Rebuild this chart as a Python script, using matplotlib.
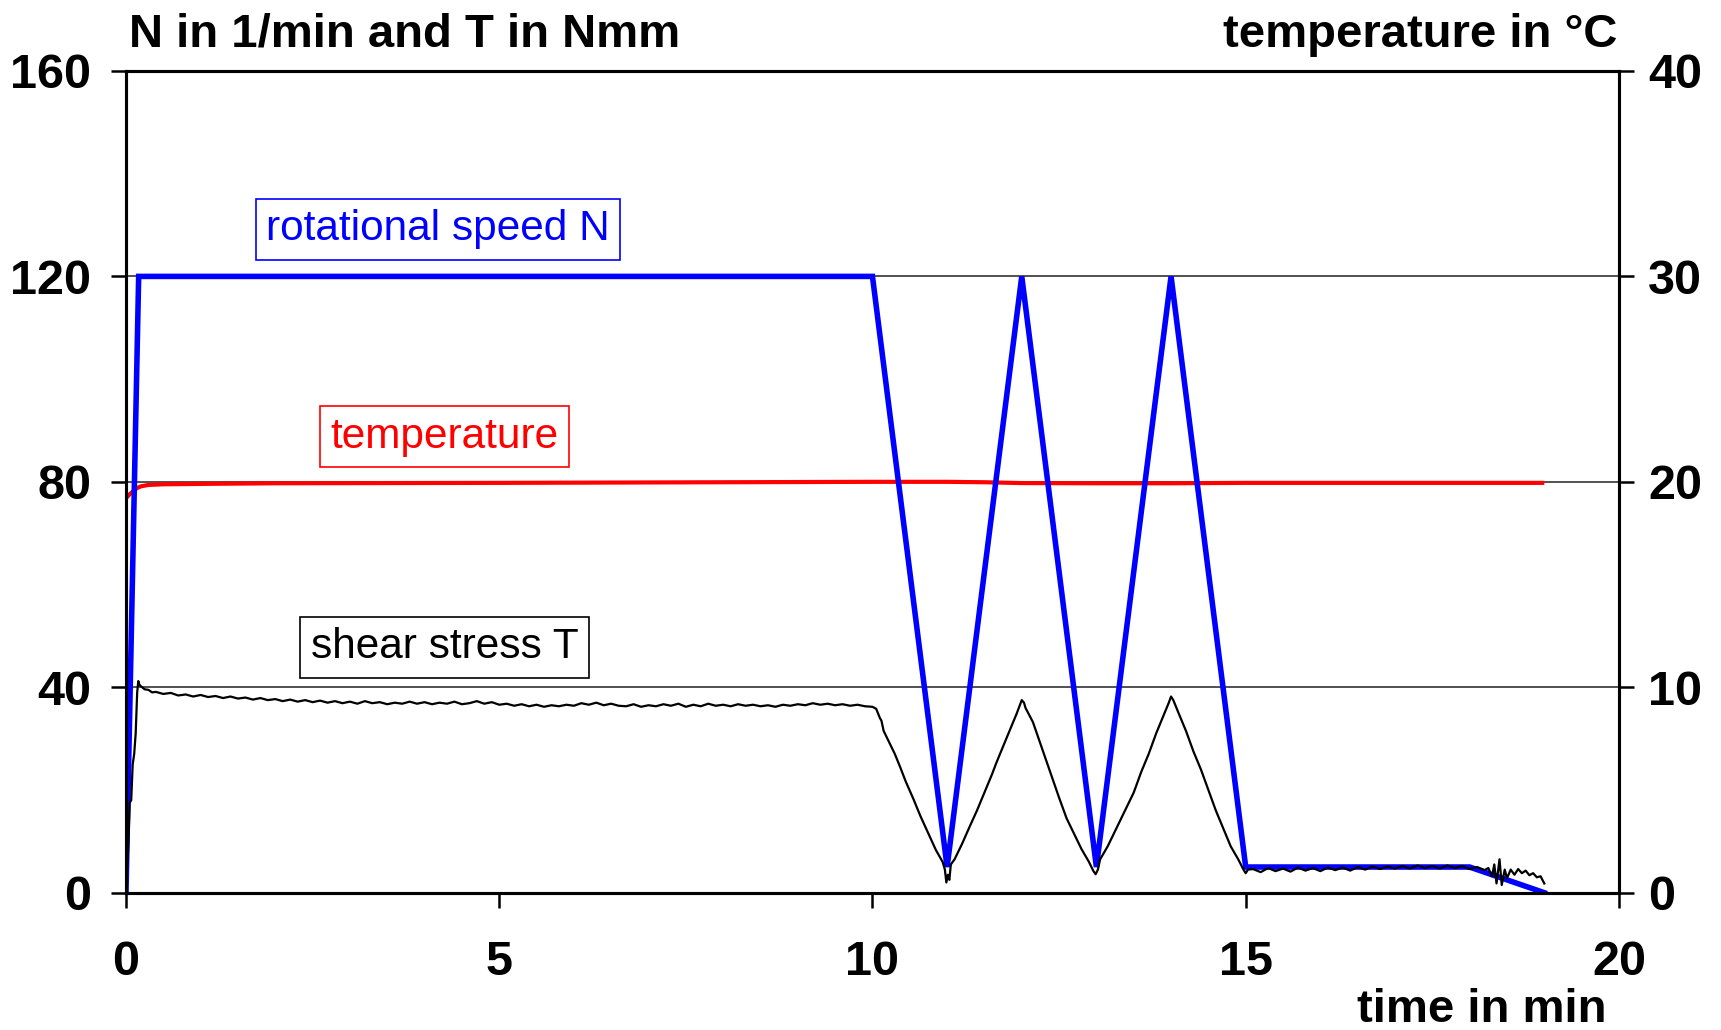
import matplotlib
matplotlib.use('Agg')
import matplotlib.pyplot as plt

plt.rcParams['font.family'] = ['Liberation Sans', 'DejaVu Sans']

# rotational speed N (1/min)
speed_t = [0, 0.17, 10, 11, 12, 13, 14, 15, 18.0, 19.0]
speed_n = [0, 120, 120, 5, 120, 5, 120, 5, 5, 0]

# temperature (degC, right axis)
temp_t = [0, 0.05, 0.1, 0.15, 0.2, 0.3, 0.5, 1, 2, 5, 10, 11, 11.5, 12, 13, 14, 15, 19]
temp_c = [19.2, 19.4, 19.55, 19.7, 19.78, 19.85, 19.88, 19.9, 19.93, 19.95, 20.0, 20.0,
          19.98, 19.94, 19.93, 19.93, 19.95, 19.95]

# shear stress T (Nmm)
shear_t = [0.00, 0.03, 0.05, 0.07, 0.09, 0.11, 0.13, 0.15, 0.165, 0.18, 0.20, 0.25, 0.30, 0.35, 0.40,
           0.5, 0.6, 0.7, 0.8, 0.9, 1.0, 1.1, 1.2, 1.3, 1.4,
           1.5, 1.6, 1.7, 1.8, 1.9, 2.0, 2.1, 2.2, 2.3, 2.4,
           2.5, 2.6, 2.7, 2.8, 2.9, 3.0, 3.1, 3.2, 3.3, 3.4,
           3.5, 3.6, 3.7, 3.8, 3.9, 4.0, 4.1, 4.2, 4.3, 4.4,
           4.5, 4.6, 4.7, 4.8, 4.9, 5.0, 5.1, 5.2, 5.3, 5.4,
           5.5, 5.6, 5.7, 5.8, 5.9, 6.0, 6.1, 6.2, 6.3, 6.4,
           6.5, 6.6, 6.7, 6.8, 6.9, 7.0, 7.1, 7.2, 7.3, 7.4,
           7.5, 7.6, 7.7, 7.8, 7.9, 8.0, 8.1, 8.2, 8.3, 8.4,
           8.5, 8.6, 8.7, 8.8, 8.9, 9.0, 9.1, 9.2, 9.3, 9.4,
           9.5, 9.6, 9.7, 9.8, 9.9, 10.0,
           10.05, 10.1, 10.12, 10.15, 10.2, 10.3, 10.37, 10.45, 10.55, 10.64, 10.75, 10.85,
           10.94, 10.97, 10.99, 11.01, 11.03, 11.05, 11.1, 11.2, 11.3, 11.4, 11.5, 11.6,
           11.66, 11.75, 11.85, 11.93, 12.0, 12.03, 12.05, 12.15, 12.25, 12.38, 12.5, 12.6,
           12.7, 12.8, 12.9, 12.96, 12.99, 13.02, 13.05, 13.15, 13.25, 13.4, 13.5, 13.6,
           13.7, 13.8, 13.9, 13.97, 14.0, 14.03, 14.1, 14.2, 14.3, 14.4, 14.5, 14.6,
           14.7, 14.8, 14.9, 14.97, 15.0, 15.03,
           15.1, 15.2, 15.3, 15.4, 15.5, 15.6, 15.7, 15.8, 15.9, 16.0,
           16.1, 16.2, 16.3, 16.4, 16.5, 16.6, 16.7, 16.8, 16.9, 17.0,
           17.1, 17.2, 17.3, 17.4, 17.5, 17.6, 17.7, 17.8, 17.9, 18.0,
           18.1, 18.2, 18.25, 18.3, 18.33, 18.36, 18.4, 18.43, 18.47, 18.5,
           18.55, 18.6, 18.65, 18.7, 18.75, 18.8, 18.85, 18.9, 18.95, 19.0]
shear_v = [0, 9, 17.5, 18, 25, 27, 31, 39, 41.2, 40.5, 40.2, 39.6, 39.5, 39.0, 39.1,
           38.7, 38.9, 38.4, 38.6, 38.2, 38.5, 38.1, 38.3, 37.9, 38.2,
           37.8, 38.0, 37.6, 37.9, 37.5, 37.7, 37.3, 37.6, 37.2, 37.5,
           37.1, 37.4, 37.0, 37.3, 36.9, 37.2, 36.8, 37.3, 36.9, 37.1,
           36.7, 37.0, 36.8, 37.2, 36.8, 37.1, 36.7, 37.0, 36.8, 37.2,
           36.7, 36.9, 37.3, 36.8, 37.1, 36.6, 36.8, 36.4, 36.7, 36.3,
           36.6, 36.2, 36.5, 36.3, 36.6, 36.4, 36.9, 36.6, 37.0, 36.5,
           36.8, 36.4, 36.3, 36.7, 36.2, 36.5, 36.3, 36.7, 36.4, 36.8,
           36.2, 36.6, 36.3, 36.8, 36.4, 36.6, 36.3, 36.7, 36.4, 36.6,
           36.3, 36.5, 36.2, 36.6, 36.4, 36.7, 36.5, 36.9, 36.6, 36.8,
           36.5, 36.7, 36.4, 36.6, 36.3, 36.2,
           35.8, 34.0, 33.5, 31.5, 30.0, 27.0, 24.5, 21.5, 18.2, 15.0, 11.5, 8.3,
           6.0, 4.5, 2.0, 3.5, 2.5, 5.5, 6.5, 9.5, 12.8, 16.0, 19.5, 23.0,
           25.3, 28.5, 32.0, 34.8, 37.5, 37.0, 36.0, 33.2, 29.0, 23.5, 18.5, 14.5,
           11.5, 8.5, 6.0, 4.2, 3.6, 4.5, 6.5, 9.0, 12.0, 16.5, 19.5, 23.5,
           27.0, 31.0, 34.5, 37.0, 38.2, 37.5, 35.0, 31.5, 27.5, 24.0, 20.0, 16.0,
           12.5, 9.0, 6.5, 4.5, 3.8, 4.5,
           4.6, 4.0, 4.8, 4.2, 4.7, 4.1, 4.9, 4.3, 4.8, 4.2,
           4.9, 4.4, 4.9, 4.3, 5.0, 4.5, 5.1, 4.6, 5.1, 4.7,
           5.2, 4.7, 5.3, 4.8, 5.2, 4.7, 5.3, 4.8, 5.2, 4.6,
           5.0, 4.4, 4.8, 3.2, 5.5, 1.8, 6.5, 1.5, 4.5, 2.8,
           4.5, 3.5, 4.6, 3.8, 4.3, 3.4, 3.8, 3.0, 3.2, 1.8]

fig = plt.figure(figsize=(17.21, 10.30), dpi=100)
ax1 = fig.add_axes([0.0732, 0.1333, 0.8675, 0.7978])
ax2 = ax1.twinx()
# temperature axis sits underneath so blue/black lines draw over red
ax1.set_zorder(2)
ax2.set_zorder(1)
ax1.patch.set_visible(False)

ax2.plot(temp_t, temp_c, color='#ff0000', lw=3.0, solid_capstyle='butt')
ax1.plot(speed_t, speed_n, color='#0000ff', lw=4.0, solid_joinstyle='miter')
ax1.plot(shear_t, shear_v, color='black', lw=1.6)

ax1.set_xlim(0, 20)
ax1.set_ylim(0, 160)
ax2.set_ylim(0, 40)
ax1.set_xticks([0, 5, 10, 15, 20])
ax1.set_yticks([0, 40, 80, 120, 160])
ax2.set_yticks([0, 10, 20, 30, 40])

# grid on the lower axes
ax2.grid(True, color='#222222', lw=1.1)
ax2.set_axisbelow(True)

for ax in (ax1, ax2):
    for s in ax.spines.values():
        s.set_linewidth(2.2)
    ax.tick_params(length=11, width=1.8, labelsize=35)
    for lab in ax.get_xticklabels() + ax.get_yticklabels():
        lab.set_fontweight('bold')
ax1.tick_params(axis='x', pad=23)
ax1.tick_params(axis='y', pad=14)
ax2.tick_params(axis='y', pad=10)

# series labels
box = dict(boxstyle='square,pad=0.25', fc='white', lw=1.2)
ax1.text(4.18, 129.2, 'rotational speed N', color='#0000ff', fontsize=30.5, ha='center', va='center',
         bbox=dict(box, ec='#0000ff'))
ax1.text(4.27, 88.8, 'temperature', color='#ff0000', fontsize=30.5, ha='center', va='center',
         bbox=dict(box, ec='#ff0000'))
ax1.text(4.27, 47.75, 'shear stress T', color='black', fontsize=30.5, ha='center', va='center',
         bbox=dict(box, ec='black'))

fig.text(0.0752, 0.9544, 'N in 1/min and T in Nmm', fontsize=34, fontweight='bold',
         ha='left', va='baseline')
fig.text(0.9396, 0.9544, 'temperature in °C', fontsize=34, fontweight='bold',
         ha='right', va='baseline')
fig.text(0.9336, 0.0078, 'time in min', fontsize=34, fontweight='bold',
         ha='right', va='baseline')

fig.savefig('out.png', dpi=100)
